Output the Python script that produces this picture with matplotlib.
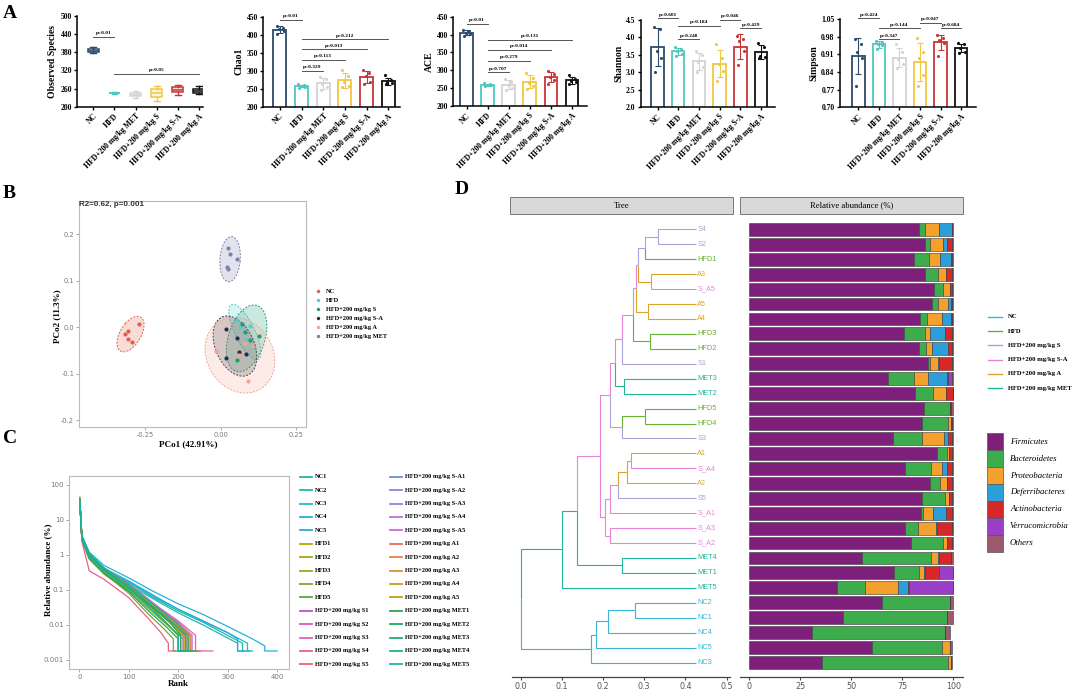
import numpy as np
import matplotlib
matplotlib.use("Agg")
import matplotlib.pyplot as plt
from matplotlib.patches import Ellipse, Rectangle

W, H = 1080, 691
SERIF = "Liberation Serif"
SANS = "Liberation Sans"

# ---------------- data ----------------
# panel A : alpha diversity
groups = ["NC", "HFD", "HFD+200 mg/kg MET", "HFD+200 mg/kg S",
          "HFD+200 mg/kg S-A", "HFD+200 mg/kg A"]
observed = [[378, 382, 385, 390, 398], [243, 244, 245, 246, 248],
            [228, 235, 240, 246, 252], [218, 232, 245, 260, 268],
            [240, 248, 255, 264, 272], [242, 246, 252, 260, 267]]
chao1 = [[425, 420, 415, 410, 402], [262, 260, 258, 256, 253],
         [283, 278, 262, 255, 247], [303, 284, 268, 258, 254],
         [302, 295, 285, 270, 263], [287, 274, 268, 265, 262]]
ace = [[414, 409, 405, 401, 397], [263, 261, 260, 258, 256],
       [276, 268, 258, 251, 245], [292, 279, 265, 256, 248],
       [297, 290, 281, 272, 262], [286, 276, 270, 266, 262]]
shannon = [[4.30, 4.25, 3.62, 3.42, 3.02], [3.72, 3.68, 3.60, 3.52, 3.48],
           [3.62, 3.50, 3.30, 3.15, 3.00], [3.80, 3.40, 3.25, 3.05, 2.75],
           [4.05, 3.95, 3.90, 3.60, 3.20], [3.85, 3.72, 3.48, 3.45, 3.40]]
simpson = [[0.970, 0.950, 0.920, 0.895, 0.785], [0.962, 0.958, 0.950, 0.945, 0.930],
           [0.950, 0.920, 0.890, 0.870, 0.855], [0.975, 0.920, 0.895, 0.830, 0.785],
           [0.985, 0.975, 0.965, 0.955, 0.905], [0.955, 0.950, 0.935, 0.920, 0.915]]
# (from group, to group, y of line, label)
p_observed = [(0, 1, 430, "p=0.01"), (1, 5, 308, "p=0.05")]
p_chao1 = [(0, 1, 441, "p=0.01"), (1, 5, 387, "p=0.212"), (1, 4, 359, "p=0.013"),
           (1, 3, 330, "p=0.113"), (1, 2, 299, "p=0.329")]
p_ace = [(0, 1, 430, "p=0.01"), (1, 5, 385, "p=0.131"), (1, 4, 357, "p=0.014"),
         (1, 3, 327, "p=0.279"), (1, 2, 294, "p=0.707")]
p_shannon = [(0, 1, 4.55, "p=0.601"), (1, 3, 4.33, "p=0.184"), (1, 2, 3.95, "p=0.248"),
             (3, 4, 4.50, "p=0.046"), (4, 5, 4.26, "p=0.429")]
p_simpson = [(0, 1, 1.053, "p=0.424"), (1, 3, 1.013, "p=0.144"), (1, 2, 0.970, "p=0.347"),
             (3, 4, 1.035, "p=0.047"), (4, 5, 1.013, "p=0.684")]

# panel B : PCoA
pcoa_labels = ["NC", "HFD", "HFD+200 mg/kg S", "HFD+200 mg/kg S-A",
               "HFD+200 mg/kg A", "HFD+200 mg/kg MET"]
pc1 = [[-0.270, -0.308, -0.316, -0.307, -0.295],
       [0.054, 0.063, 0.096, 0.085, 0.104],
       [0.072, 0.126, 0.096, 0.055, 0.080],
       [0.017, 0.054, 0.061, 0.085, 0.019],
       [-0.014, 0.090, 0.104, 0.079, 0.060],
       [0.025, 0.030, 0.055, 0.022, 0.024]]
pc2 = [[0.007, -0.007, -0.014, -0.025, -0.032],
       [0.016, 0.001, 0.003, -0.027, -0.042],
       [0.007, -0.018, -0.026, -0.070, -0.010],
       [-0.004, -0.022, -0.052, -0.057, -0.065],
       [-0.050, -0.115, -0.039, -0.034, -0.060],
       [0.172, 0.159, 0.147, 0.131, 0.125]]

# panel C : rank abundance (anchor ranks, abundance %, last rank on floor)
FLOOR = 0.0018
rank_names = ["NC1", "NC2", "NC3", "NC4", "NC5",
              "HFD1", "HFD2", "HFD3", "HFD4", "HFD5",
              "HFD+200 mg/kg S1", "HFD+200 mg/kg S2", "HFD+200 mg/kg S3",
              "HFD+200 mg/kg S4", "HFD+200 mg/kg S5",
              "HFD+200 mg/kg S-A1", "HFD+200 mg/kg S-A2", "HFD+200 mg/kg S-A3",
              "HFD+200 mg/kg S-A4", "HFD+200 mg/kg S-A5",
              "HFD+200 mg/kg A1", "HFD+200 mg/kg A2", "HFD+200 mg/kg A3",
              "HFD+200 mg/kg A4", "HFD+200 mg/kg A5",
              "HFD+200 mg/kg MET1", "HFD+200 mg/kg MET2", "HFD+200 mg/kg MET3",
              "HFD+200 mg/kg MET4", "HFD+200 mg/kg MET5"]
rank_x = [[1, 5, 20, 50, 100, 150, 200, 250, 300, 330],
          [1, 5, 20, 50, 100, 150, 200, 250, 290, 320],
          [1, 5, 20, 50, 100, 150, 200, 250, 300, 340],
          [1, 5, 20, 50, 100, 150, 200, 250, 300, 350, 375],
          [1, 5, 20, 50, 100, 150, 200, 250, 300, 320],
          [1, 5, 20, 50, 100, 150, 180, 200],
          [1, 5, 20, 50, 100, 150, 190, 215],
          [1, 5, 20, 50, 100, 150, 185, 210],
          [1, 5, 20, 50, 100, 140, 170, 190],
          [1, 5, 20, 50, 100, 150, 180, 200],
          [1, 5, 20, 50, 100, 150, 190, 220],
          [1, 5, 20, 50, 100, 150, 190, 215],
          [1, 5, 20, 50, 100, 150, 200, 235],
          [1, 5, 20, 50, 100, 140, 165, 180],
          [1, 5, 20, 50, 100, 150, 190, 225],
          [1, 5, 20, 50, 100, 150, 190, 215],
          [1, 5, 20, 50, 100, 150, 185, 205],
          [1, 5, 20, 50, 100, 150, 195, 225],
          [1, 5, 20, 50, 100, 150, 190, 210],
          [1, 5, 20, 50, 100, 150, 200, 228],
          [1, 5, 20, 50, 100, 150, 190, 215],
          [1, 5, 20, 50, 100, 150, 195, 225],
          [1, 5, 20, 50, 100, 150, 190, 220],
          [1, 5, 20, 50, 100, 150, 185, 212],
          [1, 5, 20, 50, 100, 150, 195, 222],
          [1, 5, 20, 50, 100, 150, 185, 205],
          [1, 5, 20, 50, 100, 140, 175, 200],
          [1, 5, 20, 50, 100, 150, 190, 215],
          [1, 5, 20, 50, 100, 150, 195, 220],
          [1, 5, 20, 50, 100, 145, 180, 200]]
rank_y = [[35, 3.2, 1.0, 0.38, 0.16, 0.06, 0.025, 0.012, 0.005, 0.003],
          [30, 3.0, 0.9, 0.35, 0.14, 0.055, 0.022, 0.010, 0.005, 0.003],
          [28, 3.4, 1.1, 0.42, 0.18, 0.07, 0.028, 0.013, 0.006, 0.003],
          [25, 3.5, 1.2, 0.50, 0.22, 0.09, 0.040, 0.020, 0.009, 0.004, 0.0025],
          [32, 3.0, 0.95, 0.38, 0.17, 0.065, 0.028, 0.013, 0.006, 0.004],
          [40, 2.8, 0.8, 0.30, 0.10, 0.025, 0.010, 0.005],
          [30, 3.0, 0.9, 0.32, 0.11, 0.030, 0.010, 0.004],
          [45, 2.6, 0.75, 0.28, 0.09, 0.022, 0.008, 0.004],
          [38, 2.9, 0.8, 0.30, 0.08, 0.020, 0.008, 0.004],
          [35, 3.1, 0.85, 0.30, 0.10, 0.028, 0.010, 0.005],
          [30, 3.3, 1.0, 0.40, 0.13, 0.035, 0.012, 0.005],
          [28, 3.0, 0.9, 0.35, 0.12, 0.030, 0.011, 0.005],
          [35, 3.5, 1.1, 0.42, 0.14, 0.040, 0.013, 0.005],
          [40, 2.5, 0.35, 0.20, 0.06, 0.015, 0.006, 0.003],
          [30, 3.2, 0.95, 0.38, 0.13, 0.035, 0.011, 0.005],
          [30, 3.3, 1.0, 0.40, 0.14, 0.040, 0.012, 0.005],
          [35, 3.0, 0.9, 0.36, 0.12, 0.032, 0.011, 0.005],
          [28, 3.5, 1.05, 0.42, 0.15, 0.042, 0.013, 0.005],
          [33, 3.1, 0.95, 0.38, 0.13, 0.036, 0.012, 0.005],
          [30, 3.4, 1.0, 0.40, 0.14, 0.040, 0.012, 0.005],
          [38, 3.0, 0.9, 0.35, 0.12, 0.033, 0.011, 0.005],
          [32, 3.2, 1.0, 0.38, 0.13, 0.036, 0.012, 0.005],
          [30, 3.3, 0.95, 0.40, 0.14, 0.038, 0.012, 0.005],
          [36, 2.9, 0.88, 0.34, 0.12, 0.032, 0.011, 0.005],
          [34, 3.1, 0.92, 0.37, 0.13, 0.035, 0.012, 0.005],
          [30, 3.5, 1.0, 0.38, 0.12, 0.030, 0.011, 0.005],
          [42, 2.8, 0.8, 0.30, 0.09, 0.025, 0.009, 0.004],
          [35, 3.2, 0.95, 0.36, 0.12, 0.032, 0.011, 0.005],
          [28, 3.6, 1.1, 0.42, 0.14, 0.038, 0.012, 0.005],
          [32, 3.0, 0.9, 0.34, 0.11, 0.028, 0.010, 0.005]]
rank_end = [350, 330, 345, 400, 335, 225, 230, 235, 205, 210,
            240, 228, 270, 195, 235, 228, 222, 240, 225, 245,
            225, 232, 240, 228, 236, 215, 212, 228, 235, 218]
rank_colors = ["#1fb8a0", "#1fbab3", "#20bcc8", "#22b4d8", "#2aa6e0",
               "#b5a300", "#a3a515", "#95a81f", "#7ba82a", "#54a93a",
               "#c050d0", "#d058c8", "#e060b0", "#e9608f", "#f06070",
               "#6f8fcf", "#8a84dc", "#a17ce0", "#bd70df", "#d267d5",
               "#f06a60", "#f08048", "#e09030", "#cf9a20", "#c0a010",
               "#2aa84a", "#20ad60", "#1ab078", "#18b290", "#1ab4a2"]

# panel D : tree + phylum composition
leaves = ["S4", "S2", "HFD1", "A3", "S_A5", "A5", "A4", "HFD3", "HFD2", "S1",
          "MET3", "MET2", "HFD5", "HFD4", "S3", "A1", "S_A4", "A2", "S5", "S_A1",
          "S_A3", "S_A2", "MET4", "MET1", "MET5", "NC2", "NC1", "NC4", "NC5", "NC3"]
TIP = 0.427
# node, child a, child b, distance from root, group colour
merges = [("n1", "S4", "S2", 0.333, "S"), ("n2", "n1", "HFD1", 0.302, "S"),
          ("n3", "A3", "S_A5", 0.316, "A"), ("n4", "A5", "A4", 0.310, "A"),
          ("n5", "n2", "n3", 0.286, "S-A"), ("n6", "n5", "n4", 0.279, "S-A"),
          ("n7", "HFD3", "HFD2", 0.314, "HFD"), ("n8", "n6", "n7", 0.272, "S-A"),
          ("n9", "n8", "S1", 0.245, "S-A"), ("n10", "MET3", "MET2", 0.252, "MET"),
          ("n11", "n9", "n10", 0.229, "S-A"), ("n12a", "HFD5", "HFD4", 0.303, "HFD"),
          ("n12", "n12a", "S3", 0.245, "S"), ("n13", "n11", "n12", 0.217, "S-A"),
          ("nA", "A1", "S_A4", 0.269, "A"), ("nB", "nA", "A2", 0.259, "A"),
          ("nC", "nB", "S5", 0.237, "S-A"), ("nD", "nC", "S_A1", 0.217, "S-A"),
          ("nE", "S_A3", "S_A2", 0.218, "S-A"), ("nF", "nD", "nE", 0.206, "S-A"),
          ("n14", "n13", "nF", 0.193, "S-A"), ("nG", "MET4", "MET1", 0.247, "MET"),
          ("nH", "n14", "nG", 0.138, "MET"), ("nI", "nH", "MET5", 0.101, "MET"),
          ("nc1", "NC2", "NC1", 0.277, "NC"), ("nc2", "nc1", "NC4", 0.211, "NC"),
          ("nc3", "nc2", "NC5", 0.184, "NC"), ("nc4", "nc3", "NC3", 0.171, "NC"),
          ("root", "nI", "nc4", 0.0, "NC")]
taxa = ["Firmicutes", "Bacteroidetes", "Proteobacteria", "Deferribacteres",
        "Actinobacteria", "Verrucomicrobia", "Others"]
firmicutes = [83, 86, 81, 86, 90.5, 89.5, 83.5, 76, 83, 87.7, 68, 81.5, 85.6, 84.5, 70.6,
              92.2, 76.3, 88.6, 84.5, 84.2, 76.3, 79.1, 55.1, 70.9, 43.1, 65.2, 45.8, 30.6, 60, 35.8]
bacteroidetes = [3, 2.5, 7, 6.5, 4.5, 3, 3.5, 10, 3.8, 0.8, 13, 8.7, 12.7, 13, 13.9,
                 4.6, 12.6, 4.9, 11.4, 0.8, 6.5, 16, 34.2, 12.4, 13.6, 33.2, 51.3, 65.4, 34.3, 61.8]
proteobacteria = [7, 6.5, 5.5, 4, 3.3, 5, 7.5, 2.5, 2.8, 4, 6.5, 6.2, 0.3, 1.5, 10.9,
                  1.3, 5.4, 3.6, 1.8, 5.2, 9, 2, 3.4, 2.5, 16.3, 0.2, 0, 0, 4.1, 1.1]
deferribacteres = [6.5, 2, 5.5, 0, 0, 1.5, 4.5, 7.7, 8, 0.3, 9.3, 0.3, 0, 0, 2.1,
                   0, 2.5, 0, 0, 6.2, 0.3, 0, 0.3, 0.3, 4.9, 0, 0, 0, 0, 0]
actinobacteria = [0, 2.5, 0.5, 3, 1.2, 0.5, 0.5, 3.3, 2, 6.8, 0.5, 3, 0.5, 0.3, 1.8,
                  1.4, 2.7, 2.4, 1.8, 3.1, 7.4, 2.4, 5.7, 6.9, 0.4, 0, 0, 0, 0, 0]
verrucomicrobia = [0, 0, 0, 0, 0, 0, 0, 0, 0, 0, 2.2, 0, 0, 0, 0,
                   0, 0, 0, 0, 0, 0, 0, 0, 7, 21.7, 0, 0, 0, 0, 0]
others = [0.5, 0.5, 0.5, 0.5, 0.5, 0.5, 0.5, 0.5, 0.4, 0.4, 0.5, 0.3, 0.9, 0.7, 0.7,
          0.5, 0.5, 0.5, 0.5, 0.5, 0.5, 0.5, 1.3, 0, 0, 1.4, 2.9, 2.4, 0.8, 0.6]

# ---------------- styles ----------------
a_colors = ["#2e4a6b", "#4fc9bd", "#d4d4d4", "#f2c641", "#c63637", "#111111"]
b_colors = ["#e0604e", "#52cfc4", "#1a9e7a", "#22304f", "#f5a58f", "#7d82ad"]
tree_colors = {"NC": "#3cb4d8", "HFD": "#6ab034", "S": "#a9a3d9",
               "S-A": "#e884d8", "A": "#d9a62a", "MET": "#22b59a"}
taxa_colors = ["#7f1f7c", "#3cac4c", "#f3a02c", "#2d9fd8", "#d62828", "#9a3fc8", "#9c5a6e"]
jitter = [-0.16, 0.13, -0.05, 0.17, -0.12]

fig = plt.figure(figsize=(W / 100, H / 100), dpi=100)


def box(l, t, r, b):
    return [l / W, 1 - b / H, (r - l) / W, (b - t) / H]


def leaf_group(name):
    if name.startswith("S_A"):
        return "S-A"
    if name.startswith("HFD"):
        return "HFD"
    if name.startswith("MET"):
        return "MET"
    if name.startswith("NC"):
        return "NC"
    if name.startswith("S"):
        return "S"
    return "A"


# ---------------- panel A ----------------
def style_a(ax, xlim, ylim, yticks, ylabel, fmt):
    ax.set_xlim(xlim)
    ax.set_ylim(ylim)
    ax.set_xticks(range(6))
    ax.set_xticklabels(groups, rotation=45, ha="right", rotation_mode="anchor",
                       fontfamily=SERIF, fontweight="bold", fontsize=5.6)
    ax.set_yticks(yticks)
    ax.set_yticklabels([fmt.format(v) for v in yticks], fontfamily=SERIF,
                       fontweight="bold", fontsize=5.5)
    for s in ("top", "right"):
        ax.spines[s].set_visible(False)
    for s in ("left", "bottom"):
        ax.spines[s].set_linewidth(1.1)
    ax.tick_params(width=1.0, length=2.5, pad=1.5)
    ax.set_ylabel(ylabel, fontfamily=SERIF, fontweight="bold", fontsize=7, labelpad=2)
    ax.patch.set_alpha(0)


def pvals(ax, plist):
    for i, j, y, txt in plist:
        ax.plot([i, j], [y, y], color="#555555", lw=0.7, clip_on=False)
        ax.annotate(txt, (0.5 * (i + j), y), xytext=(0, 1.2), textcoords="offset points",
                    ha="center", va="bottom", fontsize=3.9, fontfamily=SERIF,
                    fontweight="bold", annotation_clip=False)


def bar_panel(rect, vals, xlim, ylim, yticks, ylabel, fmt, plist):
    ax = fig.add_axes(rect)
    for k, v in enumerate(vals):
        v = np.array(v)
        c = a_colors[k]
        ax.bar(k, v.mean(), width=0.6, facecolor="white", edgecolor=c, lw=1.3, zorder=2)
        ax.errorbar(k, v.mean(), yerr=v.std(ddof=1), fmt="none", ecolor=c,
                    elinewidth=0.8, capsize=2, capthick=0.8, zorder=3)
        ax.scatter(k + np.array(jitter), v, s=5, color=c, zorder=4, linewidths=0)
    style_a(ax, xlim, ylim, yticks, ylabel, fmt)
    pvals(ax, plist)
    return ax


axA1 = fig.add_axes(box(77.3, 16, 203, 106.7))
bp = axA1.boxplot(observed, positions=range(6), widths=0.55, whis=(0, 100),
                  patch_artist=True, showfliers=False)
fills = ["#cfe2f3", "#d8f3f0", "#f4f4f4", "#fff6d8", "#f8dede", "#e6e6e6"]
for k in range(6):
    bp["boxes"][k].set(facecolor=fills[k], edgecolor=a_colors[k], lw=1.1)
    bp["medians"][k].set(color=a_colors[k], lw=1.1)
    for part in ("whiskers", "caps"):
        for ln in bp[part][2 * k:2 * k + 2]:
            ln.set(color=a_colors[k], lw=1.0)
style_a(axA1, (-0.76, 5.2), (200, 500), [200, 260, 320, 380, 440, 500],
        "Observed Species", "{:d}")
pvals(axA1, p_observed)

bar_panel(box(263.3, 16.7, 400, 106.7), chao1, (-0.77, 5.54), (200, 450),
          [200, 250, 300, 350, 400, 450], "Chao1", "{:d}", p_chao1)
bar_panel(box(453.3, 16.7, 586.7, 106), ace, (-0.63, 5.7), (200, 450),
          [200, 250, 300, 350, 400, 450], "ACE", "{:d}", p_ace)
bar_panel(box(641, 20, 775, 107.3), shannon, (-0.8, 5.67), (2.0, 4.5),
          [2.0, 2.5, 3.0, 3.5, 4.0, 4.5], "Shannon", "{:.1f}", p_shannon)
bar_panel(box(840, 19, 976, 107.3), simpson, (-0.9, 5.73), (0.70, 1.05),
          [0.70, 0.77, 0.84, 0.91, 0.98, 1.05], "Simpson", "{:.2f}", p_simpson)

# ---------------- panel B ----------------
axB = fig.add_axes(box(79, 201, 306, 427))
for k in range(6):
    x = np.array(pc1[k])
    y = np.array(pc2[k])
    cov = np.cov(x, y)
    ev, evec = np.linalg.eigh(cov)
    ang = np.degrees(np.arctan2(evec[1, 1], evec[0, 1]))
    w, h = 2 * 2.5 * np.sqrt(ev[1]), 2 * 2.5 * np.sqrt(ev[0])
    axB.add_patch(Ellipse((x.mean(), y.mean()), w, h, angle=ang, facecolor=b_colors[k],
                          alpha=0.22, edgecolor="none"))
    axB.add_patch(Ellipse((x.mean(), y.mean()), w, h, angle=ang, facecolor="none",
                          edgecolor=b_colors[k], lw=0.7, ls=(0, (2, 1.5))))
    axB.scatter(x, y, s=9, color=b_colors[k], zorder=3, linewidths=0)
axB.set_xlim(-0.47, 0.283)
axB.set_ylim(-0.214, 0.272)
axB.set_xticks([-0.25, 0, 0.25])
axB.set_xticklabels(["-0.25", "0.00", "0.25"])
axB.set_yticks([-0.2, -0.1, 0, 0.1, 0.2])
axB.set_yticklabels(["-0.2", "-0.1", "0.0", "0.1", "0.2"])
axB.tick_params(labelsize=4.8, labelcolor="#777777", color="#999999", length=2, width=0.6, pad=1.5)
for s in axB.spines.values():
    s.set_color("#bbbbbb")
    s.set_linewidth(0.8)
axB.text(0.0, 1.0, "R2=0.62, p=0.001", transform=axB.transAxes, ha="left", va="top",
         fontsize=5.8, fontweight="bold", fontfamily=SANS, color="#333333")

# ---------------- panel C ----------------
axC = fig.add_axes(box(69, 476, 289, 669))
for k in range(len(rank_names)):
    xs = rank_x[k] + [rank_x[k][-1], rank_end[k]]
    ys = rank_y[k] + [FLOOR, FLOOR]
    axC.plot(xs, ys, color=rank_colors[k], lw=0.9)
axC.set_yscale("log")
axC.set_xlim(-21, 424)
axC.set_ylim(0.00055, 180)
axC.set_xticks([0, 100, 200, 300, 400])
axC.set_yticks([0.001, 0.01, 0.1, 1, 10, 100])
axC.set_yticklabels(["0.001", "0.01", "0.1", "1", "10", "100"])
axC.minorticks_off()
axC.tick_params(labelsize=5, labelcolor="#777777", color="#999999", length=2, width=0.6, pad=1.5)
for s in axC.spines.values():
    s.set_color("#bbbbbb")
    s.set_linewidth(0.8)

# ---------------- panel D ----------------
axT = fig.add_axes(box(512, 218, 730, 677))
px = {n: TIP for n in leaves}
py = {n: i for i, n in enumerate(leaves)}
grp = {n: leaf_group(n) for n in leaves}
for name, a, b, x, g in merges:
    px[name] = x
    py[name] = 0.5 * (py[a] + py[b])
    grp[name] = g
for name, a, b, x, g in merges:
    for c in (a, b):
        axT.plot([x, x, px[c]], [py[name], py[c], py[c]], color=tree_colors[grp[c]],
                 lw=0.8, solid_capstyle="butt", solid_joinstyle="miter")
for i, n in enumerate(leaves):
    axT.text(TIP + 0.002, i, n, color=tree_colors[leaf_group(n)], fontsize=5.3,
             fontfamily=SANS, va="center", ha="left")
axT.set_xlim(-0.0211, 0.5085)
axT.set_ylim(29.97, -0.76)
axT.set_xticks([0, 0.1, 0.2, 0.3, 0.4, 0.5])
axT.set_xticklabels(["0.0", "0.1", "0.2", "0.3", "0.4", "0.5"])
axT.set_yticks([])
for s in ("top", "right", "left"):
    axT.spines[s].set_visible(False)
axT.spines["bottom"].set_color("#444444")
axT.spines["bottom"].set_linewidth(0.9)
axT.tick_params(labelsize=5.8, labelcolor="#555555", color="#444444", length=2.5, width=0.8, pad=1.2)
axT.patch.set_alpha(0)

axR = fig.add_axes(box(740, 218, 963, 677))
table = [firmicutes, bacteroidetes, proteobacteria, deferribacteres,
         actinobacteria, verrucomicrobia, others]
left = np.zeros(len(leaves))
for k, vals in enumerate(table):
    vals = np.array(vals, dtype=float)
    axR.barh(range(len(leaves)), vals, left=left, height=0.86, color=taxa_colors[k],
             edgecolor="#3a3a3a", lw=0.4)
    left += vals
axR.set_xlim(-4.56, 104.8)
axR.set_ylim(29.97, -0.76)
axR.set_xticks([0, 25, 50, 75, 100])
axR.set_yticks([])
for s in ("top", "right", "left"):
    axR.spines[s].set_visible(False)
axR.spines["bottom"].set_color("#444444")
axR.spines["bottom"].set_linewidth(0.9)
axR.tick_params(labelsize=5.8, labelcolor="#555555", color="#444444", length=2.5, width=0.8, pad=1.2)
axR.patch.set_alpha(0)

# ---------------- overlay: letters, labels, legends ----------------
ov = fig.add_axes([0, 0, 1, 1], zorder=10)
ov.set_xlim(0, W)
ov.set_ylim(H, 0)
ov.axis("off")

for letter, x, y in [("A", 3, 5), ("B", 3, 185), ("C", 3, 430), ("D", 455, 181)]:
    ov.text(x, y, letter, fontsize=14, fontweight="bold", fontfamily=SERIF, va="top", ha="left")

ov.text(188, 444, "PCo1 (42.91%)", fontsize=6.5, fontweight="bold", fontfamily=SERIF,
        ha="center", va="center")
ov.text(57, 316, "PCo2 (11.3%)", fontsize=6.5, fontweight="bold", fontfamily=SERIF,
        ha="center", va="center", rotation=90)
ov.text(178, 684, "Rank", fontsize=6.5, fontweight="bold", fontfamily=SERIF,
        ha="center", va="center")
ov.text(48, 570, "Relative abundance (%)", fontsize=6.5, fontweight="bold", fontfamily=SERIF,
        ha="center", va="center", rotation=90)

# legend B
for k, lab in enumerate(pcoa_labels):
    y = 291 + k * 9.0
    ov.scatter([318], [y], s=6, color=b_colors[k], linewidths=0)
    ov.text(326, y, lab, fontsize=4.6, fontweight="bold", fontfamily=SERIF, va="center")

# legend C
for k, lab in enumerate(rank_names):
    col, row = divmod(k, 15)
    y = 476.7 + row * 13.4
    x0 = 300 if col == 0 else 390
    ov.plot([x0, x0 + 12], [y, y], color=rank_colors[k], lw=1.3)
    ov.text(x0 + 15, y, lab, fontsize=4.6, fontweight="bold", fontfamily=SERIF, va="center")

# strips D
for x0, txt in [(510, "Tree"), (740, "Relative abundance (%)")]:
    ov.add_patch(Rectangle((x0, 197), 223, 17, facecolor="#d9d9d9", edgecolor="#666666", lw=0.6))
    ov.text(x0 + 111.5, 205.5, txt, fontsize=6.2, fontfamily=SERIF, ha="center", va="center")

# legend D groups
group_names = ["NC", "HFD", "HFD+200 mg/kg S", "HFD+200 mg/kg S-A",
               "HFD+200 mg/kg A", "HFD+200 mg/kg MET"]
group_keys = ["NC", "HFD", "S", "S-A", "A", "MET"]
for k, lab in enumerate(group_names):
    y = 316.7 + k * 14.3
    ov.plot([988, 1002], [y, y], color=tree_colors[group_keys[k]], lw=1.0)
    ov.text(1008, y, lab, fontsize=4.8, fontweight="bold", fontfamily=SERIF, va="center")

# legend D taxa
for k, lab in enumerate(taxa):
    yc = 441.7 + k * 16.9
    ov.add_patch(Rectangle((987, yc - 8.45), 16, 16.9, facecolor=taxa_colors[k],
                           edgecolor="#555555", lw=0.5))
    ov.text(1010, yc, lab, fontsize=6.3, fontstyle="italic", fontfamily=SERIF, va="center")

fig.savefig("out.png", dpi=100)
